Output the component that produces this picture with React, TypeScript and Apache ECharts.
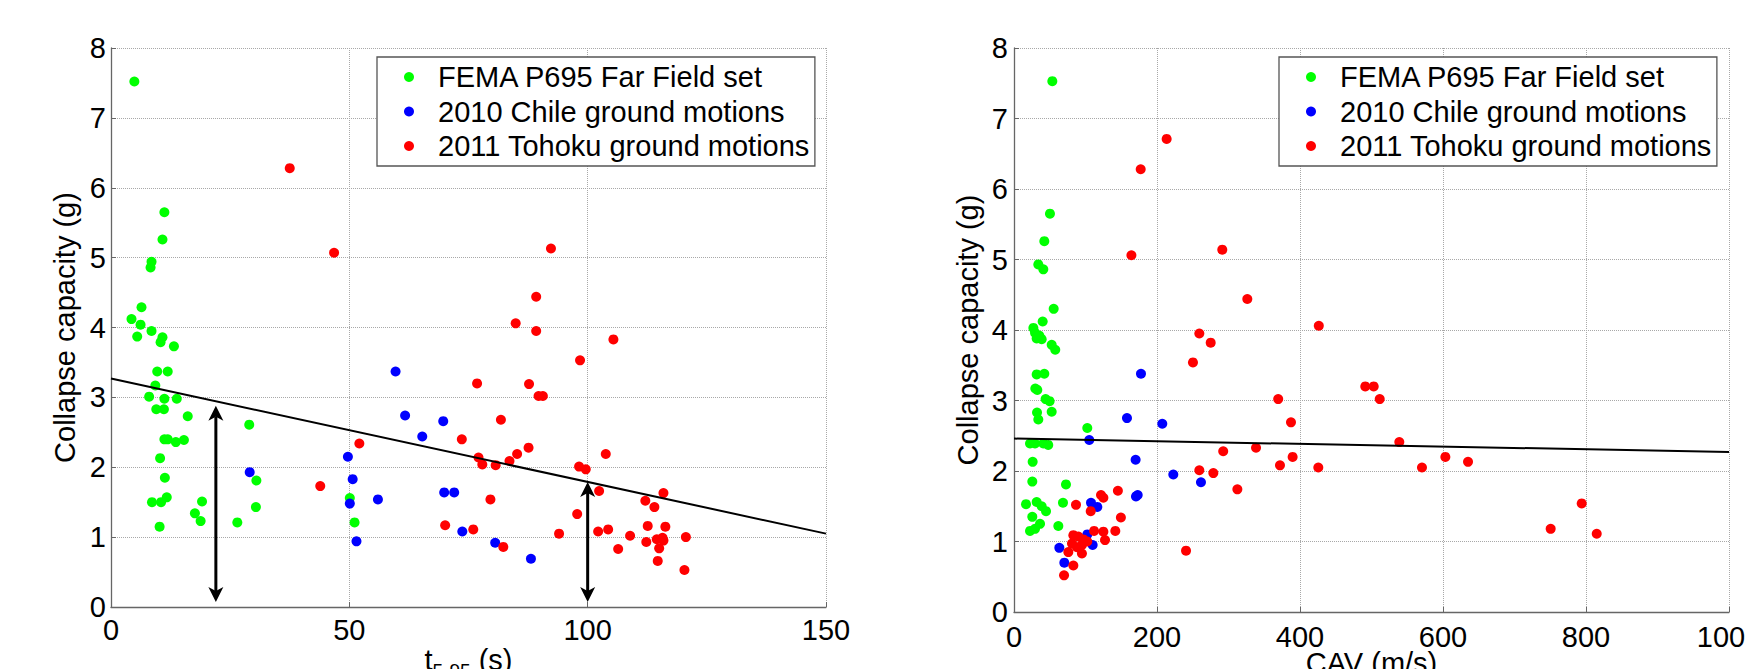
import React, { useEffect, useRef } from 'react';
import * as echarts from 'echarts';

const FONT = '"Liberation Sans", Arial, sans-serif';

const seriesNames = ['FEMA P695 Far Field set', '2010 Chile ground motions', '2011 Tohoku ground motions'];
const seriesColors = ['#00ff00', '#0000ff', '#ff0000'];

// Left panel: significant duration t5-95 (s) vs collapse capacity (g)
const durFEMA = [
  [4.9, 7.52], [11.2, 5.65], [10.8, 5.26], [8.5, 4.94], [8.3, 4.86], [6.4, 4.29], [4.3, 4.12],
  [6.2, 4.04], [8.5, 3.95], [5.5, 3.87], [10.8, 3.86], [10.4, 3.79], [13.2, 3.73], [9.7, 3.37],
  [11.9, 3.37], [9.3, 3.17], [8.0, 3.01], [11.2, 2.98], [13.8, 2.98], [9.5, 2.83], [11.1, 2.83],
  [16.1, 2.73], [29.0, 2.61], [11.2, 2.40], [11.9, 2.40], [13.6, 2.36], [15.3, 2.39], [10.3, 2.13],
  [11.3, 1.85], [8.6, 1.50], [10.5, 1.50], [11.7, 1.57], [10.2, 1.15], [17.6, 1.34], [18.8, 1.23],
  [19.1, 1.51], [26.5, 1.21], [30.5, 1.81], [30.4, 1.43], [50.1, 1.56], [51.1, 1.21]
];
const durChile = [
  [59.7, 3.37], [61.7, 2.74], [65.3, 2.44], [69.7, 2.66], [29.1, 1.93], [49.7, 2.15], [50.7, 1.83],
  [50.1, 1.48], [56.0, 1.54], [51.5, 0.94], [69.9, 1.64], [72.0, 1.64], [73.7, 1.08], [80.6, 0.92],
  [88.1, 0.69]
];
const durTohoku = [
  [37.5, 6.28], [46.8, 5.07], [92.3, 5.13], [89.2, 4.44], [84.9, 4.06], [89.2, 3.95], [105.4, 3.83],
  [98.4, 3.53], [76.8, 3.20], [87.7, 3.19], [89.7, 3.02], [90.6, 3.02], [81.8, 2.68], [73.6, 2.40],
  [87.6, 2.28], [85.2, 2.19], [77.1, 2.14], [77.9, 2.04], [80.7, 2.03], [83.6, 2.09], [103.8, 2.19],
  [98.2, 2.01], [99.6, 1.97], [102.4, 1.66], [115.9, 1.63], [112.1, 1.52], [114.0, 1.43], [79.6, 1.54],
  [97.8, 1.33], [70.1, 1.17], [76.0, 1.11], [82.3, 0.86], [94.0, 1.05], [102.2, 1.08], [104.3, 1.11],
  [108.9, 1.02], [112.6, 1.16], [116.3, 1.15], [112.3, 0.93], [114.5, 0.97], [115.7, 0.99], [115.9, 0.95],
  [115.0, 0.84], [120.6, 1.00], [106.4, 0.83], [114.7, 0.66], [120.3, 0.53], [43.9, 1.73], [52.1, 2.34]
];
const durFit = [[0, 3.27], [150, 1.05]];
// double arrows: [x, bottom tip, top tip]
const durArrows = [[22, 0.07, 2.88], [100, 0.07, 1.79]];

// Right panel: CAV (m/s) vs collapse capacity (g)
const cavFEMA = [
  [53.6, 7.53], [50.3, 5.65], [42.4, 5.26], [34.0, 4.93], [41.0, 4.86], [55.5, 4.30], [40.1, 4.12],
  [27.1, 4.03], [29.4, 3.96], [35.4, 3.92], [31.7, 3.88], [38.7, 3.87], [52.7, 3.79], [57.7, 3.72],
  [31.7, 3.37], [42.4, 3.38], [29.8, 3.17], [32.6, 3.15], [44.2, 3.02], [49.8, 2.99], [32.2, 2.83],
  [52.7, 2.84], [34.0, 2.73], [102.5, 2.61], [22.4, 2.39], [29.4, 2.39], [41.0, 2.39], [47.9, 2.37],
  [26.1, 2.13], [25.6, 1.85], [16.8, 1.53], [31.7, 1.56], [38.7, 1.50], [44.8, 1.43], [25.6, 1.35],
  [22.4, 1.15], [29.4, 1.18], [36.4, 1.25], [62.0, 1.22], [72.7, 1.81], [68.5, 1.55]
];
const cavChile = [
  [177.6, 3.38], [158.0, 2.75], [207.4, 2.67], [105.3, 2.44], [170.1, 2.16], [222.8, 1.95], [261.5, 1.84],
  [170.6, 1.64], [173.0, 1.66], [107.7, 1.55], [116.5, 1.49], [102.5, 1.10], [110.0, 0.95], [63.4, 0.91],
  [70.4, 0.70]
];
const cavTohoku = [
  [177.2, 6.28], [213.5, 6.71], [164.2, 5.06], [291.3, 5.14], [326.3, 4.44], [426.3, 4.06], [259.2, 3.95],
  [275.1, 3.82], [250.3, 3.54], [369.5, 3.02], [387.4, 2.69], [292.6, 2.28], [338.5, 2.33], [372.0, 2.08],
  [389.7, 2.20], [425.6, 2.05], [259.2, 2.01], [278.8, 1.97], [312.4, 1.74], [240.6, 0.87], [86.7, 1.52],
  [107.3, 1.43], [121.7, 1.66], [125.0, 1.62], [145.3, 1.72], [149.5, 1.34], [112.0, 1.15], [125.0, 1.14],
  [127.3, 1.02], [141.7, 1.15], [83.0, 1.09], [90.0, 1.07], [97.0, 1.03], [102.5, 1.00], [81.1, 0.97],
  [95.0, 0.95], [88.1, 0.92], [95.0, 0.83], [76.0, 0.85], [83.0, 0.66], [70.0, 0.52], [491.3, 3.20],
  [503.1, 3.20], [511.5, 3.02], [538.9, 2.41], [570.6, 2.05], [603.3, 2.20], [635.0, 2.13], [794.0, 1.54],
  [750.6, 1.18], [815.0, 1.11]
];
const cavFit = [[0, 2.46], [1000, 2.27]];

const yTicks = { min: 0, max: 8, interval: 1 };
const durTicks = { min: 0, max: 150, interval: 50 };
const cavTicks = { min: 0, max: 1000, interval: 200 };

const axisColor = '#666';
const gridColor = '#a8a8a8';
const FS = 29;

function labelStyle(margin: number) {
  return { color: '#000', fontSize: FS, fontFamily: FONT, margin, formatter: (v: number) => String(v) };
}

function valueAxis(extra: any) {
  return {
    type: 'value',
    nameMoveOverlap: false,
    axisLine: { show: true, lineStyle: { color: axisColor, width: 1.3 } },
    axisTick: { show: true, inside: true, length: 5, lineStyle: { color: axisColor } },
    splitLine: { show: true, lineStyle: { type: 'dotted', color: gridColor, width: 1 } },
    nameTextStyle: { color: '#000', fontSize: FS, fontFamily: FONT },
    ...extra,
  };
}

function legendAt(left: number) {
  return {
    data: seriesNames,
    orient: 'vertical',
    left,
    top: 57,
    padding: [5, 5, 5, 27],
    itemWidth: 10,
    itemHeight: 10,
    itemGap: 4.5,
    icon: 'circle',
    selectedMode: false,
    backgroundColor: '#fff',
    borderColor: '#555',
    borderWidth: 1.3,
    borderRadius: 0,
    textStyle: { color: '#000', fontSize: FS, fontFamily: FONT, lineHeight: 30, padding: [0, 0, 0, 19] },
  };
}

function scatter(name: string, color: string, data: number[][], idx: number) {
  return {
    type: 'scatter',
    name,
    xAxisIndex: idx,
    yAxisIndex: idx,
    data,
    symbol: 'circle',
    symbolSize: 10,
    itemStyle: { color, opacity: 1 },
    z: 3,
  };
}

function fitLine(data: number[][], idx: number) {
  return {
    type: 'line',
    name: 'fit' + idx,
    xAxisIndex: idx,
    yAxisIndex: idx,
    data,
    symbol: 'none',
    lineStyle: { color: '#000', width: 2 },
    z: 5,
  };
}

export default function App() {
  const ref = useRef<HTMLDivElement>(null);
  useEffect(() => {
    if (!ref.current) return;
    const chart = echarts.init(ref.current, undefined, { renderer: 'svg' });
    const option: any = {
      animation: false,
      backgroundColor: '#fff',
      grid: [
        { left: 111, top: 48, width: 715, height: 559, containLabel: false, outerBoundsMode: 'none' },
        { left: 1014, top: 48, width: 715, height: 564, containLabel: false, outerBoundsMode: 'none' },
      ],
      legend: [legendAt(377), legendAt(1279)],
      xAxis: [
        valueAxis({
          gridIndex: 0, ...durTicks,
          name: '{t|t}{s|5-95}{t| (s)}',
          nameLocation: 'middle', nameGap: 38,
          axisLabel: labelStyle(8),
          nameTextStyle: {
            color: '#000', fontSize: FS, fontFamily: FONT,
            rich: {
              t: { fontSize: FS, fontFamily: FONT, color: '#000', lineHeight: 28, verticalAlign: 'top' },
              s: { fontSize: 19, fontFamily: FONT, color: '#000', lineHeight: 19, padding: [16, 0, 0, 0], verticalAlign: 'top' },
            },
          },
        }),
        valueAxis({
          gridIndex: 1, ...cavTicks,
          name: 'CAV (m/s)', nameLocation: 'middle', nameGap: 36,
          axisLabel: labelStyle(10),
        }),
      ],
      yAxis: [
        valueAxis({
          gridIndex: 0, ...yTicks,
          name: 'Collapse capacity (g)', nameLocation: 'middle', nameGap: 32,
          axisLabel: labelStyle(5),
        }),
        valueAxis({
          gridIndex: 1, ...yTicks,
          name: 'Collapse capacity (g)', nameLocation: 'middle', nameGap: 32,
          axisLabel: labelStyle(6),
        }),
      ],
      series: [
        scatter(seriesNames[0], seriesColors[0], durFEMA, 0),
        scatter(seriesNames[1], seriesColors[1], durChile, 0),
        scatter(seriesNames[2], seriesColors[2], durTohoku, 0),
        fitLine(durFit, 0),
        {
          type: 'custom',
          name: 'arrows',
          xAxisIndex: 0,
          yAxisIndex: 0,
          data: durArrows,
          z: 6,
          renderItem: (_params: any, api: any) => {
            const x = api.value(0);
            const p0 = api.coord([x, api.value(1)]);
            const p1 = api.coord([x, api.value(2)]);
            const hl = 15, hw = 7.5, notch = 11;
            return {
              type: 'group',
              children: [
                { type: 'line', shape: { x1: p0[0], y1: p0[1] - notch, x2: p1[0], y2: p1[1] + notch }, style: { stroke: '#000', lineWidth: 3 } },
                { type: 'polygon', shape: { points: [[p1[0], p1[1]], [p1[0] - hw, p1[1] + hl], [p1[0], p1[1] + notch], [p1[0] + hw, p1[1] + hl]] }, style: { fill: '#000' } },
                { type: 'polygon', shape: { points: [[p0[0], p0[1]], [p0[0] - hw, p0[1] - hl], [p0[0], p0[1] - notch], [p0[0] + hw, p0[1] - hl]] }, style: { fill: '#000' } },
              ],
            };
          },
        },
        scatter(seriesNames[0], seriesColors[0], cavFEMA, 1),
        scatter(seriesNames[1], seriesColors[1], cavChile, 1),
        scatter(seriesNames[2], seriesColors[2], cavTohoku, 1),
        fitLine(cavFit, 1),
      ],
    };
    chart.setOption(option);
    return () => chart.dispose();
  }, []);
  return (
    <div
      ref={ref}
      style={{ position: 'absolute', left: 0, top: 0, width: 1745, height: 669, background: '#fff' }}
    />
  );
}
